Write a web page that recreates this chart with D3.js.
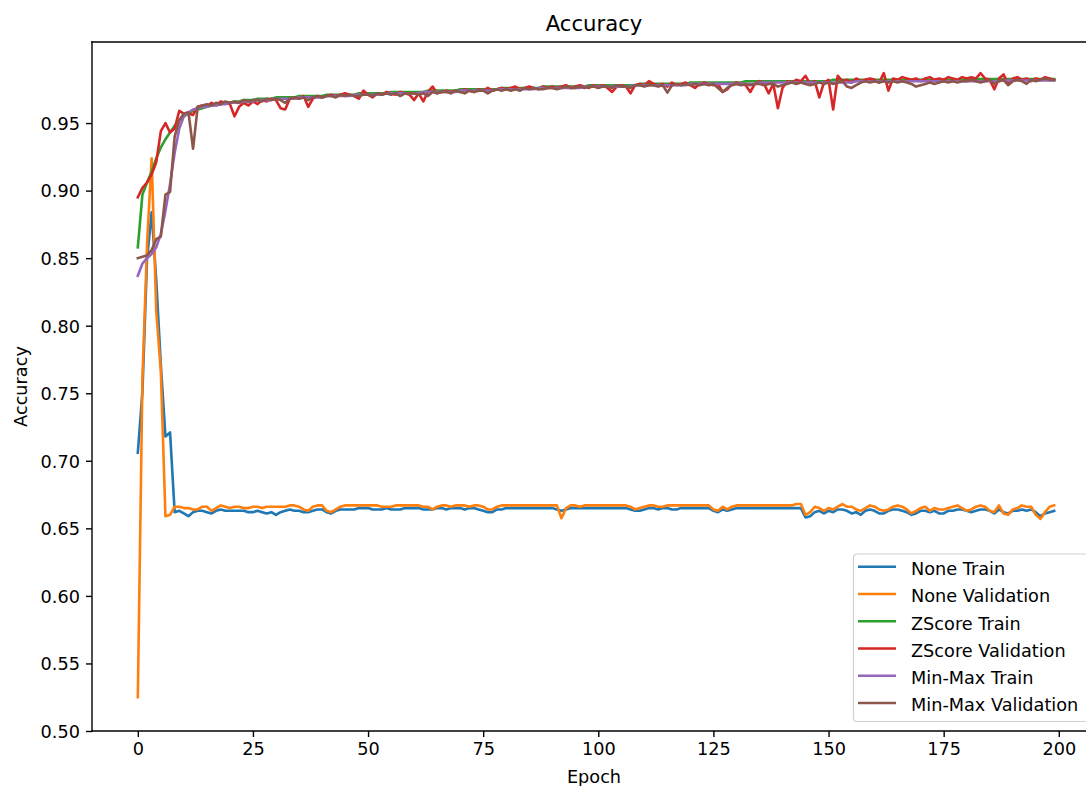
<!DOCTYPE html>
<html>
<head>
<meta charset="utf-8">
<script src="https://cdn.jsdelivr.net/npm/d3@7"></script>
<style>
  html, body { margin: 0; padding: 0; background: #fff; }
  svg { display: block; }
  text { font-family: "DejaVu Sans", sans-serif; fill: #000; }
</style>
</head>
<body>
<svg id="chart" width="1086" height="786"></svg>
<script>
const epochs = d3.range(200);

const noneTrain = [
0.706,0.751,0.849,0.884,0.834,0.771,0.718,0.721,0.662,0.663,
0.661,0.659,0.662,0.663,0.663,0.662,0.661,0.663,0.664,0.663,
0.663,0.663,0.663,0.663,0.662,0.662,0.663,0.662,0.661,0.662,
0.660,0.662,0.663,0.664,0.663,0.663,0.662,0.662,0.663,0.664,
0.664,0.662,0.661,0.663,0.664,0.664,0.664,0.664,0.665,0.665,
0.665,0.664,0.664,0.664,0.665,0.664,0.664,0.664,0.665,0.665,
0.665,0.665,0.664,0.664,0.664,0.665,0.665,0.664,0.665,0.665,
0.665,0.664,0.665,0.665,0.664,0.663,0.662,0.662,0.664,0.664,
0.665,0.665,0.665,0.665,0.665,0.665,0.665,0.665,0.665,0.665,
0.665,0.664,0.663,0.664,0.665,0.665,0.665,0.665,0.665,0.665,
0.665,0.665,0.665,0.665,0.665,0.665,0.665,0.664,0.663,0.663,
0.664,0.665,0.665,0.664,0.665,0.665,0.664,0.664,0.665,0.665,
0.665,0.665,0.665,0.665,0.665,0.663,0.662,0.664,0.663,0.664,
0.665,0.665,0.665,0.665,0.665,0.665,0.665,0.665,0.665,0.665,
0.665,0.665,0.665,0.665,0.665,0.658,0.659,0.662,0.663,0.661,
0.663,0.662,0.664,0.664,0.663,0.661,0.662,0.660,0.663,0.664,
0.663,0.661,0.661,0.663,0.664,0.664,0.663,0.662,0.660,0.661,
0.663,0.663,0.662,0.663,0.661,0.661,0.663,0.663,0.664,0.664,
0.663,0.662,0.663,0.664,0.664,0.663,0.661,0.664,0.662,0.661,
0.663,0.663,0.664,0.663,0.664,0.662,0.659,0.661,0.662,0.663];

const noneVal = [
0.525,0.760,0.860,0.924,0.811,0.766,0.659,0.660,0.666,0.666,
0.665,0.665,0.664,0.664,0.666,0.666,0.663,0.665,0.667,0.666,
0.665,0.666,0.666,0.665,0.665,0.666,0.666,0.665,0.666,0.666,
0.666,0.666,0.666,0.667,0.667,0.666,0.664,0.663,0.666,0.667,
0.667,0.663,0.662,0.664,0.666,0.667,0.667,0.667,0.667,0.667,
0.667,0.667,0.667,0.666,0.666,0.666,0.667,0.667,0.667,0.667,
0.667,0.667,0.666,0.666,0.664,0.666,0.667,0.667,0.666,0.667,
0.667,0.667,0.666,0.667,0.667,0.666,0.664,0.664,0.666,0.667,
0.667,0.667,0.667,0.667,0.667,0.667,0.667,0.667,0.667,0.667,
0.667,0.667,0.6575,0.665,0.667,0.667,0.666,0.667,0.667,0.667,
0.667,0.667,0.667,0.667,0.667,0.667,0.667,0.666,0.664,0.665,
0.666,0.667,0.667,0.666,0.666,0.667,0.667,0.667,0.667,0.667,
0.667,0.667,0.667,0.667,0.667,0.664,0.663,0.666,0.664,0.666,
0.667,0.667,0.667,0.667,0.667,0.667,0.667,0.667,0.667,0.667,
0.667,0.667,0.667,0.668,0.668,0.660,0.662,0.666,0.665,0.663,
0.665,0.664,0.666,0.668,0.666,0.666,0.664,0.663,0.665,0.667,
0.666,0.664,0.663,0.664,0.666,0.667,0.666,0.664,0.661,0.663,
0.665,0.666,0.663,0.665,0.664,0.664,0.665,0.666,0.667,0.665,
0.663,0.664,0.666,0.667,0.666,0.663,0.662,0.667,0.661,0.660,
0.664,0.665,0.667,0.666,0.666,0.660,0.657,0.662,0.666,0.667];

const zscoreTrain = [
0.858,0.897,0.906,0.914,0.924,0.932,0.938,0.943,0.948,0.952,
0.955,0.957,0.959,0.960,0.961,0.962,0.963,0.964,0.964,0.965,
0.965,0.966,0.966,0.967,0.967,0.967,0.968,0.968,0.968,0.968,
0.969,0.969,0.969,0.969,0.969,0.970,0.970,0.970,0.970,0.970,
0.970,0.971,0.971,0.971,0.971,0.971,0.971,0.971,0.972,0.972,
0.972,0.972,0.972,0.972,0.972,0.973,0.973,0.973,0.973,0.973,
0.973,0.973,0.973,0.974,0.974,0.974,0.974,0.974,0.974,0.974,
0.975,0.975,0.975,0.975,0.975,0.975,0.975,0.975,0.975,0.976,
0.976,0.976,0.976,0.976,0.976,0.976,0.976,0.976,0.977,0.977,
0.977,0.977,0.977,0.977,0.977,0.977,0.977,0.977,0.978,0.978,
0.978,0.978,0.978,0.978,0.978,0.978,0.978,0.978,0.978,0.979,
0.979,0.979,0.979,0.979,0.979,0.979,0.979,0.979,0.979,0.979,
0.980,0.980,0.980,0.980,0.980,0.980,0.980,0.980,0.980,0.980,
0.980,0.980,0.981,0.981,0.981,0.981,0.981,0.981,0.981,0.981,
0.981,0.981,0.981,0.981,0.981,0.981,0.981,0.981,0.981,0.981,
0.981,0.982,0.982,0.982,0.982,0.982,0.982,0.982,0.982,0.982,
0.982,0.982,0.982,0.982,0.982,0.982,0.982,0.982,0.982,0.982,
0.982,0.982,0.982,0.982,0.982,0.982,0.982,0.982,0.982,0.982,
0.9825,0.9825,0.9825,0.9825,0.9825,0.9825,0.9825,0.9825,0.9825,0.9825,
0.9825,0.9825,0.9825,0.9825,0.9825,0.9825,0.9825,0.9825,0.9825,0.9825];

const zscoreVal = [
0.895,0.902,0.906,0.912,0.921,0.944,0.950,0.943,0.946,0.959,
0.957,0.957,0.956,0.962,0.963,0.962,0.965,0.963,0.966,0.965,
0.964,0.955,0.962,0.965,0.963,0.966,0.964,0.967,0.966,0.968,
0.967,0.961,0.960,0.968,0.969,0.968,0.970,0.962,0.968,0.970,
0.969,0.970,0.971,0.970,0.971,0.972,0.971,0.970,0.968,0.974,
0.971,0.969,0.972,0.971,0.973,0.972,0.971,0.973,0.972,0.971,
0.967,0.972,0.966,0.973,0.977,0.972,0.973,0.974,0.973,0.974,
0.973,0.975,0.974,0.973,0.975,0.974,0.976,0.974,0.975,0.976,
0.975,0.976,0.977,0.975,0.976,0.977,0.976,0.975,0.977,0.976,
0.977,0.976,0.977,0.978,0.976,0.977,0.978,0.977,0.976,0.978,
0.977,0.978,0.976,0.973,0.977,0.978,0.977,0.972,0.978,0.979,
0.978,0.981,0.979,0.978,0.979,0.977,0.980,0.978,0.979,0.980,
0.978,0.976,0.979,0.980,0.979,0.978,0.979,0.973,0.975,0.979,
0.980,0.979,0.978,0.973,0.979,0.981,0.979,0.972,0.979,0.961,
0.976,0.981,0.980,0.982,0.981,0.985,0.979,0.981,0.969,0.980,
0.982,0.960,0.985,0.981,0.982,0.980,0.983,0.981,0.982,0.983,
0.982,0.980,0.987,0.974,0.983,0.982,0.984,0.983,0.982,0.983,
0.981,0.983,0.984,0.982,0.983,0.982,0.984,0.983,0.982,0.984,
0.983,0.984,0.983,0.987,0.983,0.982,0.975,0.983,0.986,0.979,
0.983,0.984,0.982,0.983,0.981,0.983,0.982,0.984,0.983,0.982];

const minmaxTrain = [
0.837,0.846,0.850,0.853,0.858,0.868,0.885,0.905,0.928,0.946,
0.955,0.958,0.960,0.961,0.962,0.962,0.963,0.963,0.964,0.964,
0.965,0.965,0.965,0.966,0.966,0.966,0.967,0.967,0.967,0.967,
0.968,0.968,0.968,0.968,0.968,0.969,0.969,0.969,0.969,0.969,
0.969,0.970,0.970,0.970,0.970,0.970,0.970,0.971,0.971,0.971,
0.971,0.971,0.971,0.971,0.972,0.972,0.972,0.972,0.972,0.972,
0.972,0.972,0.973,0.973,0.973,0.973,0.973,0.973,0.973,0.973,
0.974,0.974,0.974,0.974,0.974,0.974,0.974,0.974,0.975,0.975,
0.975,0.975,0.975,0.975,0.975,0.975,0.975,0.976,0.976,0.976,
0.976,0.976,0.976,0.976,0.976,0.976,0.976,0.977,0.977,0.977,
0.977,0.977,0.977,0.977,0.977,0.977,0.977,0.977,0.978,0.978,
0.978,0.978,0.978,0.978,0.978,0.978,0.978,0.978,0.978,0.978,
0.979,0.979,0.979,0.979,0.979,0.979,0.979,0.979,0.979,0.979,
0.979,0.979,0.979,0.979,0.979,0.980,0.980,0.980,0.980,0.980,
0.980,0.980,0.980,0.980,0.980,0.980,0.980,0.980,0.980,0.980,
0.980,0.980,0.980,0.980,0.980,0.980,0.981,0.981,0.981,0.981,
0.981,0.981,0.981,0.981,0.981,0.981,0.981,0.981,0.981,0.981,
0.981,0.981,0.981,0.981,0.981,0.981,0.981,0.981,0.981,0.981,
0.981,0.981,0.981,0.981,0.981,0.981,0.981,0.981,0.9815,0.9815,
0.9815,0.9815,0.9815,0.9815,0.9815,0.9815,0.9815,0.9815,0.9815,0.9815];

const minmaxVal = [
0.850,0.851,0.852,0.856,0.864,0.866,0.897,0.899,0.940,0.952,
0.957,0.958,0.931,0.962,0.963,0.964,0.963,0.965,0.964,0.966,
0.965,0.966,0.965,0.967,0.966,0.967,0.967,0.966,0.968,0.967,
0.968,0.967,0.965,0.968,0.969,0.968,0.969,0.967,0.969,0.970,
0.969,0.970,0.970,0.969,0.971,0.970,0.971,0.970,0.970,0.971,
0.971,0.970,0.972,0.971,0.972,0.971,0.972,0.970,0.972,0.972,
0.972,0.971,0.972,0.970,0.973,0.972,0.973,0.973,0.972,0.974,
0.973,0.972,0.974,0.973,0.974,0.974,0.972,0.974,0.975,0.974,
0.975,0.974,0.975,0.974,0.976,0.975,0.976,0.975,0.975,0.976,
0.976,0.975,0.976,0.977,0.976,0.976,0.977,0.976,0.977,0.977,
0.976,0.977,0.977,0.976,0.978,0.977,0.977,0.976,0.978,0.978,
0.977,0.978,0.978,0.977,0.978,0.9725,0.978,0.979,0.978,0.979,
0.978,0.979,0.978,0.979,0.978,0.979,0.976,0.973,0.976,0.978,
0.979,0.978,0.979,0.978,0.979,0.979,0.978,0.979,0.979,0.977,
0.978,0.979,0.980,0.979,0.980,0.979,0.978,0.979,0.980,0.979,
0.980,0.979,0.980,0.981,0.977,0.976,0.978,0.980,0.981,0.980,
0.981,0.980,0.981,0.980,0.981,0.980,0.981,0.980,0.979,0.977,
0.978,0.979,0.980,0.979,0.980,0.981,0.980,0.981,0.980,0.981,
0.981,0.982,0.981,0.980,0.981,0.982,0.979,0.981,0.982,0.978,
0.981,0.982,0.981,0.979,0.982,0.981,0.982,0.983,0.982,0.982];

const seriesNames = ["None Train","None Validation","ZScore Train","ZScore Validation","Min-Max Train","Min-Max Validation"];
const seriesValues = [noneTrain, noneVal, zscoreTrain, zscoreVal, minmaxTrain, minmaxVal];
const seriesColors = ["#1f77b4","#ff7f0e","#2ca02c","#d62728","#9467bd","#8c564b"];
const xTicks = [0,25,50,75,100,125,150,175,200];
const yTicks = [0.50,0.55,0.60,0.65,0.70,0.75,0.80,0.85,0.90,0.95];

const svg = d3.select("#chart");
const L = 92, R = 1100, T = 42, B = 731;
const FS = 17.7;

const x = d3.scaleLinear().domain([-9.95, 208.95]).range([L, R]);
const y = d3.scaleLinear().domain([0.5, 1.01]).range([B, T]);

svg.append("defs").append("clipPath").attr("id","plotclip")
  .append("rect").attr("x", L).attr("y", T).attr("width", R - L).attr("height", B - T);

const plot = svg.append("g").attr("clip-path","url(#plotclip)");
const line = d3.line().x((d,i) => x(epochs[i])).y(d => y(d));
seriesValues.forEach((vals, k) => {
  plot.append("path").datum(vals)
    .attr("d", line)
    .attr("fill","none")
    .attr("stroke", seriesColors[k])
    .attr("stroke-width", 2.6)
    .attr("stroke-linejoin","round")
    .attr("stroke-linecap","square");
});

// axes
const xAxis = d3.axisBottom(x).tickValues(xTicks).tickFormat(d3.format("d")).tickSize(6).tickPadding(5);
const gx = svg.append("g").attr("transform", `translate(0,${B})`).call(xAxis);
const yAxis = d3.axisLeft(y).tickValues(yTicks).tickFormat(d3.format(".2f")).tickSize(6).tickPadding(6);
const gy = svg.append("g").attr("transform", `translate(${L},0)`).call(yAxis);
[gx, gy].forEach(g => {
  g.select(".domain").remove();
  g.selectAll(".tick line").attr("stroke","#000").attr("stroke-width",1.4);
  g.selectAll(".tick text").attr("font-size", FS).attr("font-family","DejaVu Sans").attr("fill","#000");
});
gx.selectAll(".tick text").attr("dy", "0.76em");
gy.selectAll(".tick text").attr("dy", "0.36em");

// spines
const spines = svg.append("g").attr("stroke","#000").attr("stroke-width",1.4).attr("stroke-linecap","square");
spines.append("line").attr("x1",L).attr("x2",R).attr("y1",B).attr("y2",B);
spines.append("line").attr("x1",L).attr("x2",R).attr("y1",T).attr("y2",T);
spines.append("line").attr("x1",L).attr("x2",L).attr("y1",T).attr("y2",B);
spines.append("line").attr("x1",R).attr("x2",R).attr("y1",T).attr("y2",B);

// titles
svg.append("text").attr("x", (L + R) / 2 - 2).attr("y", 31)
  .attr("text-anchor","middle").attr("font-size", 21.2).text("Accuracy");
svg.append("text").attr("x", (L + R) / 2 - 2).attr("y", 783)
  .attr("text-anchor","middle").attr("font-size", FS).text("Epoch");
svg.append("text").attr("transform", `translate(27,${(T + B) / 2}) rotate(-90)`)
  .attr("text-anchor","middle").attr("font-size", FS).text("Accuracy");

// legend
const lg = svg.append("g");
const lgX = 853.5, lgY = 554, lgW = 237.5, lgH = 167.5;
lg.append("rect").attr("x", lgX).attr("y", lgY).attr("width", lgW).attr("height", lgH)
  .attr("rx", 3.5).attr("ry", 3.5)
  .attr("fill","rgba(255,255,255,0.8)").attr("stroke","#d0d0d0").attr("stroke-width",1.2);
const rowH = 27.25;
seriesNames.forEach((name, k) => {
  const cy = 566.8 + k * rowH;
  lg.append("line").attr("x1", 858).attr("x2", 896).attr("y1", cy).attr("y2", cy)
    .attr("stroke", seriesColors[k]).attr("stroke-width", 2.6);
  lg.append("text").attr("x", 911).attr("y", cy + 2).attr("dy","0.36em")
    .attr("font-size", FS).text(name);
});
</script>
</body>
</html>
